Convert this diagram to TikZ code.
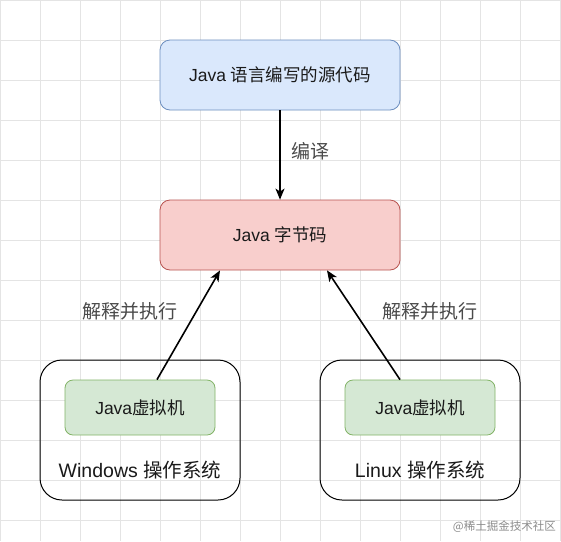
\documentclass[tikz,border=0pt]{standalone}
\usepackage{fontspec}
\setmainfont{Liberation Sans}
\newfontfamily\cjk{Noto Sans CJK SC}
\usetikzlibrary{arrows.meta,calc}
\definecolor{gridc}{HTML}{E4E4E4}
\definecolor{bluefill}{HTML}{DAE8FC}
\definecolor{bluedraw}{HTML}{6C8EBF}
\definecolor{redfill}{HTML}{F8CECC}
\definecolor{reddraw}{HTML}{B85450}
\definecolor{greenfill}{HTML}{D5E8D4}
\definecolor{greendraw}{HTML}{82B366}
\definecolor{txt}{HTML}{1A1A1A}
\definecolor{lbl}{HTML}{4A4A4A}
\newcommand{\cj}[1]{{\cjk #1}}
\tikzset{
  topbox/.style={draw, rounded corners=10pt, minimum width=240pt, minimum height=70pt, inner sep=0pt, line width=0.8pt, text=txt, font=\fontsize{17.5}{20}\selectfont},
  osbox/.style={draw=black, rounded corners=22pt, minimum width=200pt, minimum height=140pt, inner sep=0pt, line width=1pt},
  jvmbox/.style={draw=greendraw, fill=greenfill, rounded corners=8pt, minimum width=150pt, minimum height=55pt, inner sep=0pt, line width=0.8pt, text=txt, font=\fontsize{17.5}{20}\selectfont},
  ostext/.style={text=txt, font=\fontsize{19.5}{22}\selectfont, inner sep=0pt},
  lbltext/.style={text=lbl, font=\fontsize{19}{22}\selectfont, inner sep=0pt},
  arr/.style={line width=1.6pt, -{Stealth[length=11pt,width=9pt,inset=3pt]}},
  wm/.style={text=black!45, font=\fontsize{11.5}{13}\selectfont, inner sep=0pt}
}
\begin{document}
\begin{tikzpicture}[x=1pt,y=-1pt]
\useasboundingbox (0,0) rectangle (561,541);
\fill[white] (0,0) rectangle (561,541);
\foreach \i in {0,40,...,560} \draw[gridc, line width=0.7pt] (\i+0.7,0) -- (\i+0.7,541);
\foreach \j in {0,40,...,540} \draw[gridc, line width=0.7pt] (0,\j+0.7) -- (561,\j+0.7);

\node[topbox, draw=bluedraw, fill=bluefill] (src) at (280,75) {Java \cj{语言编写的源代码}};
\node[topbox, draw=reddraw, fill=redfill] (bc) at (280,235) {Java \cj{字节码}};

\node[osbox] (win) at (140,430) {};
\node[osbox] (lin) at (420,430) {};
\node[jvmbox] (jvm1) at (140,407.5) {Java\cj{虚拟机}};
\node[jvmbox] (jvm2) at (420,407.5) {Java\cj{虚拟机}};
\node[ostext] (wint) at (140,470) {Windows \cj{操作系统}};
\node[ostext] (lint) at (420,470) {Linux \cj{操作系统}};

\draw[arr] (src.south) -- (bc.north);
\draw[arr] ([xshift=17pt]jvm1.north) -- ([xshift=-60pt]bc.south);
\draw[arr] ([xshift=-20pt]jvm2.north) -- ([xshift=47pt]bc.south);

\node[lbltext] (l1) at (310,151) {\cj{编译}};
\node[lbltext] (l2) at (130,311) {\cj{解释并执行}};
\node[lbltext] (l3) at (430,311) {\cj{解释并执行}};
\node[wm, anchor=east] (wmk) at (556,527) {\cj{@稀土掘金技术社区}};
\end{tikzpicture}
\end{document}
